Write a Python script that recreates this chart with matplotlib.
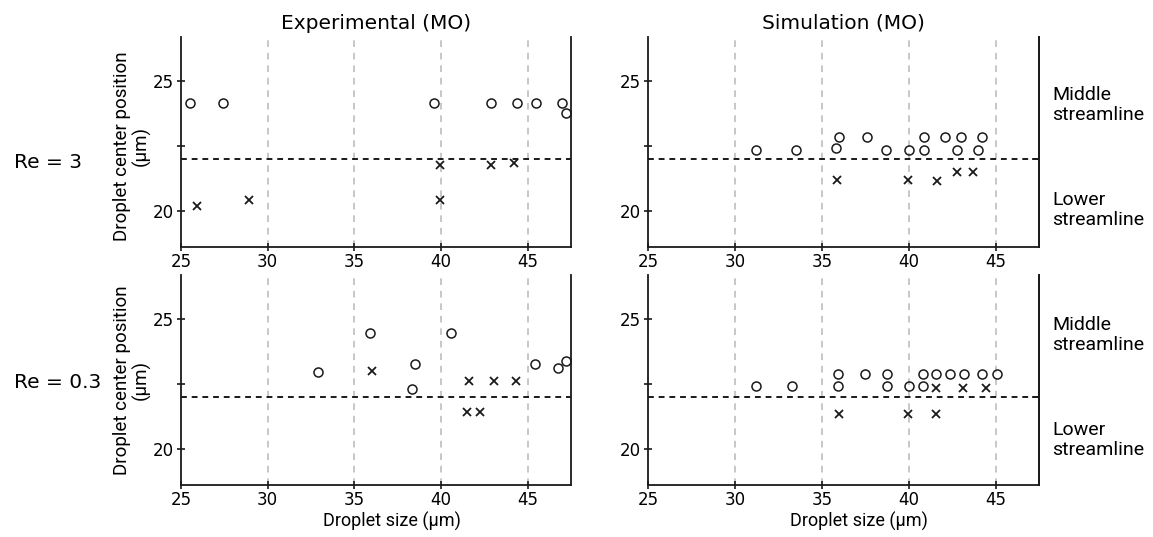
import matplotlib
matplotlib.use('Agg')
import matplotlib.pyplot as plt

# Droplet size (x) and center position (y), middle streamline = circles, lower = crosses
exp3_mid_x = [25.5, 27.4, 39.6, 42.9, 44.4, 45.5, 47.0, 47.2]
exp3_mid_y = [24.15, 24.15, 24.15, 24.15, 24.15, 24.15, 24.15, 23.75]
exp3_low_x = [25.9, 28.9, 39.95, 39.95, 42.9, 44.2]
exp3_low_y = [20.2, 20.4, 20.4, 21.75, 21.75, 21.85]

sim3_mid_x = [31.2, 33.5, 35.8, 38.7, 40.0, 40.9, 42.8, 44.0, 36.0, 37.6, 40.9, 42.1, 43.0, 44.2]
sim3_mid_y = [22.35, 22.35, 22.4, 22.35, 22.35, 22.35, 22.35, 22.35,
              22.85, 22.85, 22.85, 22.85, 22.85, 22.85]
sim3_low_x = [35.9, 39.95, 41.65, 42.8, 43.7]
sim3_low_y = [21.2, 21.2, 21.15, 21.5, 21.5]

exp03_mid_x = [32.9, 35.9, 38.5, 38.3, 40.6, 45.45, 46.75, 47.2]
exp03_mid_y = [22.95, 24.45, 23.25, 22.3, 24.45, 23.27, 23.1, 23.4]
exp03_low_x = [36.0, 41.6, 43.05, 44.35, 41.5, 42.25]
exp03_low_y = [23.0, 22.6, 22.6, 22.6, 21.4, 21.4]

sim03_mid_x = [31.2, 33.3, 35.95, 38.75, 40.0, 40.85,
               35.95, 37.5, 38.75, 40.8, 41.55, 42.35, 43.2, 44.2, 45.1]
sim03_mid_y = [22.4, 22.4, 22.4, 22.4, 22.4, 22.4,
               22.9, 22.9, 22.9, 22.9, 22.9, 22.9, 22.9, 22.9, 22.9]
sim03_low_x = [41.55, 43.1, 44.45, 36.0, 39.95, 41.55]
sim03_low_y = [22.35, 22.35, 22.35, 21.35, 21.35, 21.35]

boundary = 22.0
x_ticks = [25, 30, 35, 40, 45]
grid_x = [30, 35, 40, 45]
y_ticks = [20, 22.5, 25]
y_labels = ['20', '', '25']
col_titles = ['Experimental (MO)', 'Simulation (MO)']
row_labels = ['Re = 3', 'Re = 0.3']

fig = plt.figure(figsize=(11.53, 5.37), dpi=100)
W, H = 1153, 537

def make_ax(x0, y0, x1, y1):
    return fig.add_axes([x0 / W, 1 - y1 / H, (x1 - x0) / W, (y1 - y0) / H])

axes = [[make_ax(181, 37, 571, 247), make_ax(648, 37, 1039, 247)],
        [make_ax(181, 275, 571, 485), make_ax(648, 275, 1039, 485)]]

panels = [[(exp3_mid_x, exp3_mid_y, exp3_low_x, exp3_low_y),
           (sim3_mid_x, sim3_mid_y, sim3_low_x, sim3_low_y)],
          [(exp03_mid_x, exp03_mid_y, exp03_low_x, exp03_low_y),
           (sim03_mid_x, sim03_mid_y, sim03_low_x, sim03_low_y)]]

ink = '#1a1a1a'
for r in range(2):
    for c in range(2):
        ax = axes[r][c]
        mx, my, lx, ly = panels[r][c]
        for gx in grid_x:
            ax.axvline(gx, color='#bdbdbd', lw=1.2, ls=(0, (4, 3.5)), zorder=0)
        ax.axhline(boundary, color=ink, lw=1.4, ls=(0, (3, 2.5)), zorder=1)
        ax.plot(mx, my, 'o', ms=6.5, mfc='none', mec=ink, mew=1.1, zorder=3)
        ax.plot(lx, ly, ls='none', marker='x', ms=6.3, mew=1.3, color=ink, zorder=3)
        ax.set_xlim(25, 47.5)
        ax.set_ylim(18.6, 26.7)
        ax.spines['top'].set_visible(False)
        for s in ['left', 'bottom', 'right']:
            ax.spines[s].set_color(ink)
            ax.spines[s].set_linewidth(1.3)
        ax.set_xticks(x_ticks)
        ax.set_xticklabels([str(t) for t in x_ticks], fontsize=12)
        ax.set_yticks(y_ticks)
        ax.set_yticklabels(y_labels, fontsize=12)
        ax.tick_params(direction='inout', length=6, width=1.2, color=ink, pad=2)
        ax.tick_params(axis='x', pad=1)
        if c == 0:
            ax.set_ylabel('Droplet center position\n(\u03bcm)', family='Roboto',
                          fontsize=13.5, linespacing=1.05)
            ax.yaxis.set_label_coords(-0.078, 0.5 if r == 1 else 0.48)
        else:
            ax2 = ax.twinx()
            ax2.set_ylim(18.6, 26.7)
            ax2.set_yticks([boundary])
            ax2.set_yticklabels([''])
            ax2.tick_params(direction='in', length=5, width=1.2, color=ink)
            for s in ['top', 'left', 'bottom']:
                ax2.spines[s].set_visible(False)
            ax2.spines['right'].set_linewidth(1.3)
            ax2.spines['right'].set_color(ink)
        if r == 1:
            ax.set_xlabel('Droplet size (\u03bcm)', family='Roboto', fontsize=13, labelpad=0)
            ax.xaxis.set_label_coords(0.54, -0.13)
        if r == 0:
            ax.set_title(col_titles[c], fontsize=14.5, pad=6)

fig.text(48 / W, 1 - 162 / H, row_labels[0], fontsize=14.5, ha='center', va='center')
fig.text(58 / W, 1 - 383 / H, row_labels[1], fontsize=14.5, ha='center', va='center')

for yc in [105, 210, 335, 440]:
    txt = 'Middle\nstreamline' if yc in (105, 335) else 'Lower\nstreamline'
    fig.text(1052 / W, 1 - yc / H, txt, family='Roboto', fontsize=14,
             ha='left', va='center', linespacing=1.1)

fig.savefig('out.png', dpi=100)
